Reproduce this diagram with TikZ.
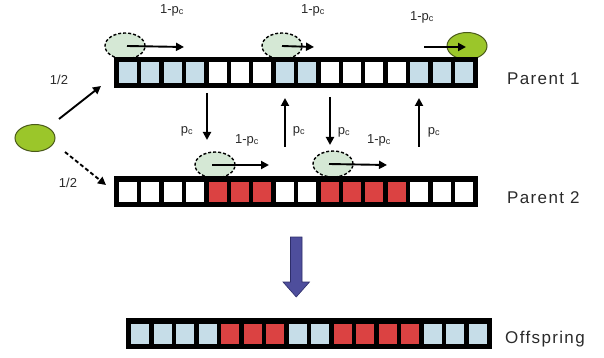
\documentclass[tikz,border=0pt]{standalone}
\usepackage{fontspec}
\setmainfont{Liberation Sans}
\newfontfamily\spacedfont[LetterSpace=8]{Liberation Sans}
\usetikzlibrary{shapes.geometric,arrows.meta,calc}
\definecolor{cellblue}{HTML}{C6DDE8}
\definecolor{cellred}{HTML}{DB4242}
\definecolor{ghost}{HTML}{D5E8D5}
\definecolor{lime}{HTML}{9BC62A}
\definecolor{limeborder}{HTML}{4A5A1A}
\definecolor{bigarrow}{HTML}{4E4E9C}
\definecolor{bigarrowborder}{HTML}{2E2E6A}
\definecolor{txt}{HTML}{2A2A2A}
\newcommand\chromo[5]{%
  \coordinate (#1) at (#2,#3);
  \fill[black] (#2,#3) rectangle ++(#4,31);
  \pgfmathsetmacro\pitch{(#4-10+4.5)/16}
  \pgfmathsetmacro\cellw{\pitch-4.5}
  \foreach \c [count=\i from 0] in {#5} {
    \fill[\c] ($(#2,#3)+(5+\i*\pitch,5.5)$) rectangle ++(\cellw,20.5);
  }
}
\tikzset{
  ghostcell/.style={ellipse, draw=black, dash pattern=on 3pt off 2pt, line width=1.4pt,
    fill=ghost, minimum width=40pt, minimum height=26pt, inner sep=0pt},
  limecell/.style={ellipse, draw=limeborder, line width=1pt, fill=lime,
    minimum width=40pt, minimum height=27pt, inner sep=0pt},
  move/.style={line width=1.9pt, -{Triangle[length=8pt,width=8pt]}},
  dashmove/.style={move, dash pattern=on 4pt off 2.5pt},
  small/.style={text=txt, font=\fontsize{13}{15}\selectfont, inner sep=0pt},
  big/.style={text=txt, font=\spacedfont\fontsize{17}{20}\selectfont, inner sep=0pt, anchor=base west},
}
\begin{document}
\begin{tikzpicture}[x=1pt,y=-1pt]
\path[use as bounding box] (0,0) rectangle (604,358);

% ghost crossover points (behind the bars)
\node[ghostcell] (g1) at (125,46) {};
\node[ghostcell] (g2) at (282,46) {};
\node[limecell]  (g3) at (467,46) {};
\node[ghostcell] (g4) at (215,165) {};
\node[ghostcell] (g5) at (333,164) {};

% chromosomes
\chromo{p1}{114}{57}{364}{cellblue,cellblue,cellblue,cellblue,white,white,white,cellblue,cellblue,white,white,white,white,cellblue,cellblue,cellblue}
\chromo{p2}{114}{176}{364}{white,white,white,white,cellred,cellred,cellred,white,white,cellred,cellred,cellred,cellred,white,white,white}
\chromo{off}{126}{318}{366}{cellblue,cellblue,cellblue,cellblue,cellred,cellred,cellred,cellblue,cellblue,cellred,cellred,cellred,cellred,cellblue,cellblue,cellblue}

% start point
\node[limecell] (start) at (35,138) {};
\coordinate (s1a) at (59,119); \coordinate (s1b) at (101,86);
\coordinate (s2a) at (65,152); \coordinate (s2b) at (106,185);
\draw[move] (s1a) -- (s1b);
\draw[dashmove] (s2a) -- (s2b);
\node[small] (h1) at (59,80) {1/2};
\node[small] (h2) at (68,183) {1/2};

% horizontal moves
\coordinate (e1) at (184,47);
\coordinate (e2) at (314,47);
\coordinate (b3) at (424,47); \coordinate (e3) at (466,47);
\coordinate (e4) at (269,165);
\coordinate (e5) at (387,165);
\draw[move] ([xshift=2pt]g1.center) -- (e1);
\draw[move] (g2.center) -- (e2);
\draw[move] (b3) -- (e3);
\draw[move] ([xshift=-3pt]g4.center) -- (e4);
\draw[move] ([xshift=-4pt]g5.center) -- (e5);
\node[small] (l1) at (172,10) {1-p\textsubscript{c}};
\node[small] (l2) at (313,10) {1-p\textsubscript{c}};
\node[small] (l3) at (422,17) {1-p\textsubscript{c}};
\node[small] (l4) at (247,140) {1-p\textsubscript{c}};
\node[small] (l5) at (379,140) {1-p\textsubscript{c}};

% vertical switches
\coordinate (v1a) at (207,93);  \coordinate (v1b) at (207,140);
\coordinate (v2a) at (285,147); \coordinate (v2b) at (285,98);
\coordinate (v3a) at (330,97);  \coordinate (v3b) at (330,145);
\coordinate (v4a) at (419,147); \coordinate (v4b) at (419,98);
\draw[move] (v1a) -- (v1b);
\draw[move] (v2a) -- (v2b);
\draw[move] (v3a) -- (v3b);
\draw[move] (v4a) -- (v4b);
\node[small] (q1) at (187,131) {p\textsubscript{c}};
\node[small] (q2) at (299,131) {p\textsubscript{c}};
\node[small] (q3) at (344,132) {p\textsubscript{c}};
\node[small] (q4) at (434,132) {p\textsubscript{c}};

% big arrow
\draw[fill=bigarrow, draw=bigarrowborder, line width=0.6pt]
  (290.5,237) -- (302,237) -- (302,282) -- (309.5,282) -- (296.25,297)
  -- (283,282) -- (290.5,282) -- cycle;

% labels
\node[big] (t1) at (507,85) {Parent 1};
\node[big] (t2) at (507,203) {Parent 2};
\node[big] (t3) at (505,343) {Offspring};
\end{tikzpicture}
\end{document}
